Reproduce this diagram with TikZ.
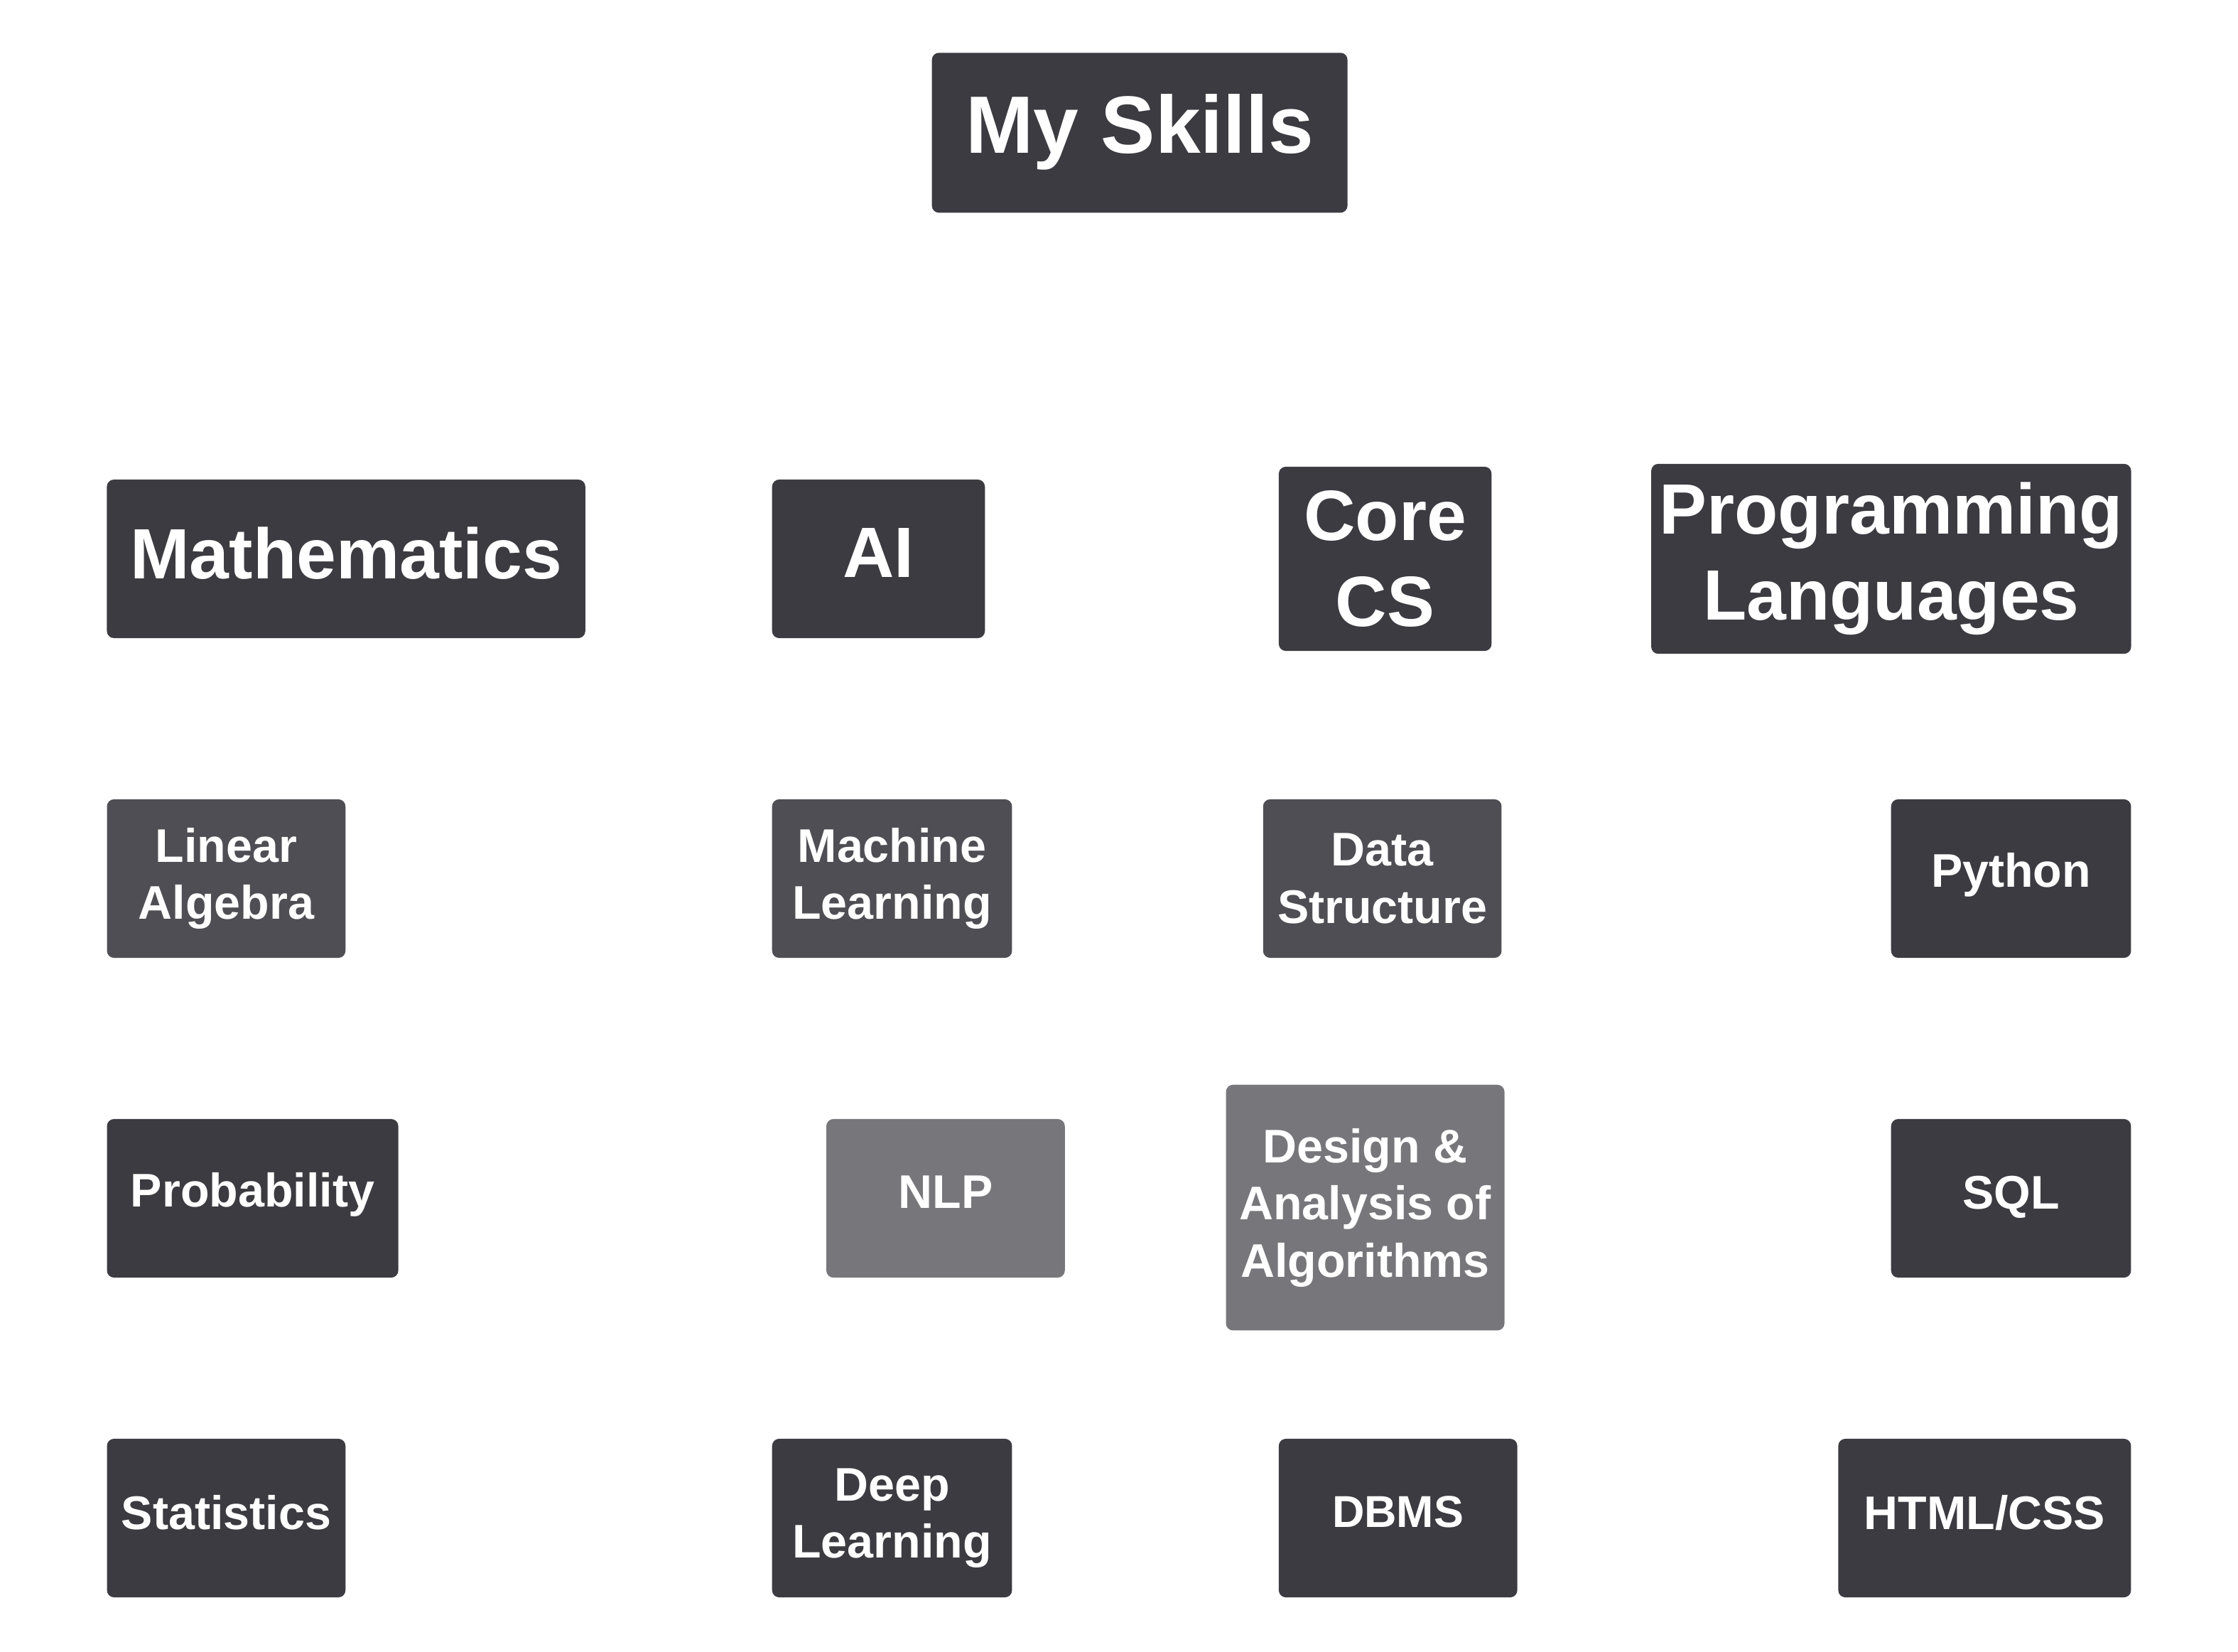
\documentclass[tikz,border=0pt]{standalone}
\usepackage{fontspec}
\setmainfont{Liberation Sans}
\definecolor{skdark}{HTML}{3C3B41}
\definecolor{skmid}{HTML}{4F4E54}
\definecolor{skgray}{HTML}{77767B}
\begin{document}
\begin{tikzpicture}[x=0.01cm,y=-0.01cm,
  skbox/.style={rectangle, rounded corners=1.4pt, fill=skdark, draw=none, text=white,
    inner sep=0pt, align=center, font=\bfseries},
  toptxt/.style={font=\fontsize{16.2pt}{19.4pt}\selectfont\bfseries},
  lvone/.style={font=\fontsize{14.2pt}{17.1pt}\selectfont\bfseries},
  lvtwo/.style={font=\fontsize{9.4pt}{11.4pt}\selectfont\bfseries},
  lvsmall/.style={font=\fontsize{8.9pt}{10.7pt}\selectfont\bfseries},
  liftflat/.style={text depth=0.24em},
  liftdesc/.style={text depth=0.35em},
  midfill/.style={fill=skmid},
  grayfill/.style={fill=skgray}]
\useasboundingbox (0,0) rectangle (1568,1157);
\fill[white] (0,0) rectangle (1568,1157);

% root
\node[skbox, toptxt, liftdesc, minimum width=2.91cm, minimum height=1.12cm] (root) at (798.5,93) {My Skills};

% level one
\node[skbox, lvone, liftflat, minimum width=3.35cm, minimum height=1.11cm] (math) at (242.5,391.5) {Mathematics};
\node[skbox, lvone, liftflat, minimum width=1.49cm, minimum height=1.11cm] (ai) at (615.5,391.5) {AI};
\node[skbox, lvone, minimum width=1.49cm, minimum height=1.29cm] (core) at (970.5,391.5) {Core\\CS};
\node[skbox, lvone, minimum width=3.36cm, minimum height=1.33cm] (prog) at (1325,391.5) {Programming\\Languages};

% row two
\node[skbox, lvtwo, midfill, minimum width=1.67cm, minimum height=1.11cm] (linalg) at (158.5,615.5) {Linear\\Algebra};
\node[skbox, lvtwo, midfill, minimum width=1.68cm, minimum height=1.11cm] (ml) at (625,615.5) {Machine\\Learning};
\node[skbox, lvtwo, midfill, minimum width=1.67cm, minimum height=1.11cm] (ds) at (968.5,615.5) {Data\\Structure};
\node[skbox, lvtwo, liftdesc, minimum width=1.68cm, minimum height=1.11cm] (python) at (1409,615.5) {Python};

% row three
\node[skbox, lvtwo, liftdesc, minimum width=2.04cm, minimum height=1.11cm] (prob) at (177,839.5) {Probability};
\node[skbox, lvtwo, liftflat, grayfill, minimum width=1.67cm, minimum height=1.11cm] (nlp) at (662.5,839.5) {NLP};
\node[skbox, lvtwo, grayfill, minimum width=1.95cm, minimum height=1.72cm] (daa) at (956.5,846) {Design \&\\Analysis of\\Algorithms};
\node[skbox, lvtwo, liftflat, minimum width=1.68cm, minimum height=1.11cm] (sql) at (1409,839.5) {SQL};

% row four
\node[skbox, lvtwo, liftflat, minimum width=1.67cm, minimum height=1.11cm] (stat) at (158.5,1063.5) {Statistics};
\node[skbox, lvtwo, minimum width=1.68cm, minimum height=1.11cm] (dl) at (625,1063.5) {Deep\\Learning};
\node[skbox, lvsmall, liftflat, minimum width=1.67cm, minimum height=1.11cm] (dbms) at (979.5,1063.5) {DBMS};
\node[skbox, lvtwo, liftflat, minimum width=2.05cm, minimum height=1.11cm] (html) at (1390.5,1063.5) {HTML/CSS};
\end{tikzpicture}
\end{document}
